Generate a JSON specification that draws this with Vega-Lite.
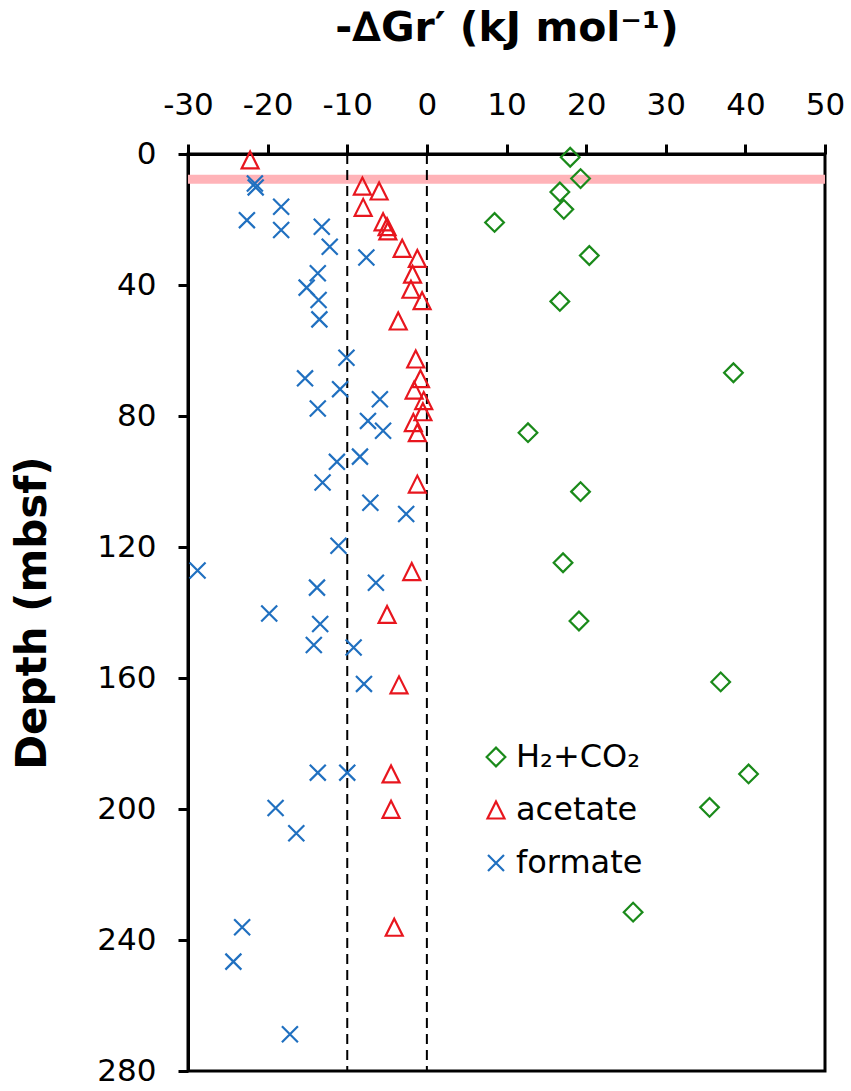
{
  "$schema": "https://vega.github.io/schema/vega-lite/v6.json",
  "width": 637,
  "height": 917,
  "autosize": {"type": "none"},
  "padding": {"left": 188, "top": 154, "right": 26, "bottom": 20},
  "background": "white",
  "config": {
    "view": {"stroke": "black", "strokeWidth": 3},
    "font": "DejaVu Sans"
  },
  "datasets": {
    "band": [{"depth": 7.7}],
    "refs": [{"dg": -10}, {"dg": 0}],
    "points": [
      {"series": "H₂+CO₂", "dg": 18.0, "depth": 1.0},
      {"series": "H₂+CO₂", "dg": 19.3, "depth": 7.5},
      {"series": "H₂+CO₂", "dg": 16.7, "depth": 11.6},
      {"series": "H₂+CO₂", "dg": 17.2, "depth": 16.9},
      {"series": "H₂+CO₂", "dg": 8.5, "depth": 20.9},
      {"series": "H₂+CO₂", "dg": 20.4, "depth": 31.0},
      {"series": "H₂+CO₂", "dg": 16.7, "depth": 45.0},
      {"series": "H₂+CO₂", "dg": 38.5, "depth": 66.8},
      {"series": "H₂+CO₂", "dg": 12.7, "depth": 85.1},
      {"series": "H₂+CO₂", "dg": 19.3, "depth": 103.1},
      {"series": "H₂+CO₂", "dg": 17.1, "depth": 124.8},
      {"series": "H₂+CO₂", "dg": 19.1, "depth": 142.6},
      {"series": "H₂+CO₂", "dg": 36.9, "depth": 161.2},
      {"series": "H₂+CO₂", "dg": 40.4, "depth": 189.3},
      {"series": "H₂+CO₂", "dg": 35.5, "depth": 199.5},
      {"series": "H₂+CO₂", "dg": 25.9, "depth": 231.5},
      {"series": "acetate", "dg": -22.2, "depth": 1.8},
      {"series": "acetate", "dg": -8.1, "depth": 9.8},
      {"series": "acetate", "dg": -6.0, "depth": 11.3},
      {"series": "acetate", "dg": -8.0, "depth": 16.3},
      {"series": "acetate", "dg": -5.5, "depth": 20.7},
      {"series": "acetate", "dg": -5.0, "depth": 22.2},
      {"series": "acetate", "dg": -4.9, "depth": 23.5},
      {"series": "acetate", "dg": -3.1, "depth": 28.8},
      {"series": "acetate", "dg": -1.2, "depth": 31.9},
      {"series": "acetate", "dg": -1.8, "depth": 36.7},
      {"series": "acetate", "dg": -2.0, "depth": 41.3},
      {"series": "acetate", "dg": -0.6, "depth": 44.8},
      {"series": "acetate", "dg": -3.6, "depth": 51.0},
      {"series": "acetate", "dg": -1.4, "depth": 62.6},
      {"series": "acetate", "dg": -0.8, "depth": 68.6},
      {"series": "acetate", "dg": -1.6, "depth": 72.1},
      {"series": "acetate", "dg": -0.4, "depth": 75.3},
      {"series": "acetate", "dg": -0.5, "depth": 78.7},
      {"series": "acetate", "dg": -1.7, "depth": 82.0},
      {"series": "acetate", "dg": -1.2, "depth": 85.1},
      {"series": "acetate", "dg": -1.2, "depth": 100.8},
      {"series": "acetate", "dg": -1.9, "depth": 127.5},
      {"series": "acetate", "dg": -5.0, "depth": 140.6},
      {"series": "acetate", "dg": -3.5, "depth": 162.1},
      {"series": "acetate", "dg": -4.5, "depth": 189.3},
      {"series": "acetate", "dg": -4.5, "depth": 200.1},
      {"series": "acetate", "dg": -4.1, "depth": 236.1},
      {"series": "formate", "dg": -21.6, "depth": 9.0},
      {"series": "formate", "dg": -21.5, "depth": 10.2},
      {"series": "formate", "dg": -18.3, "depth": 16.1},
      {"series": "formate", "dg": -22.6, "depth": 20.2},
      {"series": "formate", "dg": -18.3, "depth": 23.2},
      {"series": "formate", "dg": -13.2, "depth": 22.2},
      {"series": "formate", "dg": -12.2, "depth": 28.3},
      {"series": "formate", "dg": -7.6, "depth": 31.6},
      {"series": "formate", "dg": -13.7, "depth": 36.4},
      {"series": "formate", "dg": -15.1, "depth": 40.8},
      {"series": "formate", "dg": -13.6, "depth": 44.6},
      {"series": "formate", "dg": -13.5, "depth": 50.5},
      {"series": "formate", "dg": -10.1, "depth": 62.2},
      {"series": "formate", "dg": -15.3, "depth": 68.5},
      {"series": "formate", "dg": -10.9, "depth": 71.8},
      {"series": "formate", "dg": -5.9, "depth": 74.9},
      {"series": "formate", "dg": -13.7, "depth": 77.7},
      {"series": "formate", "dg": -7.4, "depth": 81.5},
      {"series": "formate", "dg": -5.5, "depth": 84.5},
      {"series": "formate", "dg": -8.4, "depth": 92.4},
      {"series": "formate", "dg": -11.3, "depth": 94.0},
      {"series": "formate", "dg": -13.1, "depth": 100.3},
      {"series": "formate", "dg": -7.1, "depth": 106.5},
      {"series": "formate", "dg": -2.6, "depth": 109.9},
      {"series": "formate", "dg": -11.1, "depth": 119.6},
      {"series": "formate", "dg": -28.8, "depth": 127.2},
      {"series": "formate", "dg": -6.4, "depth": 130.9},
      {"series": "formate", "dg": -13.8, "depth": 132.4},
      {"series": "formate", "dg": -19.8, "depth": 140.3},
      {"series": "formate", "dg": -13.4, "depth": 143.5},
      {"series": "formate", "dg": -14.2, "depth": 149.9},
      {"series": "formate", "dg": -9.2, "depth": 150.7},
      {"series": "formate", "dg": -7.9, "depth": 161.8},
      {"series": "formate", "dg": -13.7, "depth": 188.9},
      {"series": "formate", "dg": -10.0, "depth": 188.9},
      {"series": "formate", "dg": -19.0, "depth": 199.7},
      {"series": "formate", "dg": -16.4, "depth": 207.4},
      {"series": "formate", "dg": -23.2, "depth": 236.1},
      {"series": "formate", "dg": -24.3, "depth": 246.6},
      {"series": "formate", "dg": -17.2, "depth": 268.8}
    ]
  },
  "layer": [
    {
      "data": {"name": "band"},
      "mark": {"type": "rule", "color": "#ffb3b8", "strokeWidth": 9},
      "encoding": {
        "y": {
          "field": "depth",
          "type": "quantitative",
          "scale": {"domain": [0, 280], "reverse": true, "nice": false, "zero": false},
          "axis": {
            "values": [0, 40, 80, 120, 160, 200, 240, 280],
            "title": "Depth (mbsf)",
            "titleFontSize": 42,
            "titleFontWeight": "bold",
            "titleColor": "black",
            "titlePadding": 42,
            "labelFontSize": 31,
            "labelColor": "black",
            "labelPadding": 22,
            "labelOverlap": false,
            "labelFlush": false,
            "tickSize": 10,
            "tickWidth": 3,
            "tickColor": "black",
            "domainColor": "black",
            "domainWidth": 3,
            "grid": false
          }
        }
      }
    },
    {
      "data": {"name": "refs"},
      "mark": {"type": "rule", "color": "black", "strokeWidth": 2, "strokeDash": [10, 6]},
      "encoding": {
        "x": {
          "field": "dg",
          "type": "quantitative",
          "scale": {"domain": [-30, 50], "nice": false, "zero": false},
          "axis": {
            "orient": "top",
            "values": [-30, -20, -10, 0, 10, 20, 30, 40, 50],
            "labelExpr": "'' + datum.value",
            "title": "-∆Gr′ (kJ mol⁻¹)",
            "titleFontSize": 41,
            "titleFontWeight": "bold",
            "titleColor": "black",
            "titlePadding": 40,
            "labelFontSize": 31,
            "labelColor": "black",
            "labelPadding": 23,
            "labelOverlap": false,
            "labelFlush": false,
            "tickSize": 10,
            "tickWidth": 3,
            "tickColor": "black",
            "domainColor": "black",
            "domainWidth": 3,
            "grid": false
          }
        }
      }
    },
    {
      "data": {"name": "points"},
      "mark": {"type": "point", "filled": false, "strokeWidth": 2.2, "size": 289, "opacity": 1},
      "encoding": {
        "x": {
          "field": "dg",
          "type": "quantitative",
          "scale": {"domain": [-30, 50], "nice": false, "zero": false},
          "axis": {
            "orient": "top",
            "values": [-30, -20, -10, 0, 10, 20, 30, 40, 50],
            "labelExpr": "'' + datum.value",
            "title": "-∆Gr′ (kJ mol⁻¹)",
            "titleFontSize": 41,
            "titleFontWeight": "bold",
            "titleColor": "black",
            "titlePadding": 40,
            "labelFontSize": 31,
            "labelColor": "black",
            "labelPadding": 23,
            "labelOverlap": false,
            "labelFlush": false,
            "tickSize": 10,
            "tickWidth": 3,
            "tickColor": "black",
            "domainColor": "black",
            "domainWidth": 3,
            "grid": false
          }
        },
        "y": {
          "field": "depth",
          "type": "quantitative",
          "scale": {"domain": [0, 280], "reverse": true, "nice": false, "zero": false},
          "axis": {
            "values": [0, 40, 80, 120, 160, 200, 240, 280],
            "title": "Depth (mbsf)",
            "titleFontSize": 42,
            "titleFontWeight": "bold",
            "titleColor": "black",
            "titlePadding": 42,
            "labelFontSize": 31,
            "labelColor": "black",
            "labelPadding": 22,
            "labelOverlap": false,
            "labelFlush": false,
            "tickSize": 10,
            "tickWidth": 3,
            "tickColor": "black",
            "domainColor": "black",
            "domainWidth": 3,
            "grid": false
          }
        },
        "color": {
          "field": "series",
          "type": "nominal",
          "scale": {"domain": ["H₂+CO₂", "acetate", "formate"], "range": ["#1a8a1a", "#e8161e", "#2070c0"]},
          "legend": {
            "title": null,
            "orient": "none",
            "legendX": 292,
            "legendY": 587,
            "labelFontSize": 32,
            "labelColor": "black",
            "labelOffset": 4,
            "rowPadding": 21,
            "symbolSize": 289,
            "symbolStrokeWidth": 2.2,
            "padding": 0
          }
        },
        "shape": {
          "field": "series",
          "type": "nominal",
          "scale": {
            "domain": ["H₂+CO₂", "acetate", "formate"],
            "range": ["M-1.1,0L0,-1.1L1.1,0L0,1.1Z", "M0,-1L1,1L-1,1Z", "M-0.94,-0.94L0.94,0.94M-0.94,0.94L0.94,-0.94"]
          },
          "legend": {
            "title": null,
            "orient": "none",
            "legendX": 292,
            "legendY": 587,
            "labelFontSize": 32,
            "labelColor": "black",
            "labelOffset": 4,
            "rowPadding": 21,
            "symbolSize": 289,
            "symbolStrokeWidth": 2.2,
            "padding": 0
          }
        }
      }
    }
  ]
}
